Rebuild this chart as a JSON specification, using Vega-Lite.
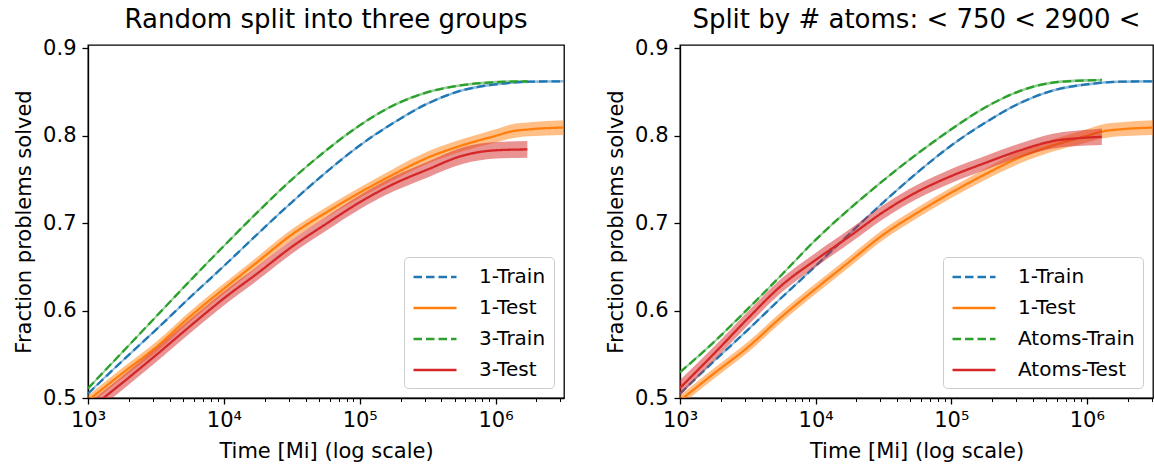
{
  "$schema": "https://vega.github.io/schema/vega-lite/v6.json",
  "padding": {"left": 12, "top": 6, "right": 0, "bottom": 0},
  "background": "white",
  "datasets": {
    "runs": [
      {"grp": "1", "kind": "Train", "series": "1-Train", "t": 1000, "v": 0.505, "lo": 0.5035, "hi": 0.5065},
      {"grp": "1", "kind": "Train", "series": "1-Train", "t": 1778, "v": 0.542, "lo": 0.5405, "hi": 0.5435},
      {"grp": "1", "kind": "Train", "series": "1-Train", "t": 3162, "v": 0.578, "lo": 0.5765, "hi": 0.5795},
      {"grp": "1", "kind": "Train", "series": "1-Train", "t": 5623, "v": 0.615, "lo": 0.6135, "hi": 0.6165},
      {"grp": "1", "kind": "Train", "series": "1-Train", "t": 10000, "v": 0.651, "lo": 0.6495, "hi": 0.6525},
      {"grp": "1", "kind": "Train", "series": "1-Train", "t": 17783, "v": 0.688, "lo": 0.6865, "hi": 0.6895},
      {"grp": "1", "kind": "Train", "series": "1-Train", "t": 31623, "v": 0.724, "lo": 0.7225, "hi": 0.7255},
      {"grp": "1", "kind": "Train", "series": "1-Train", "t": 56234, "v": 0.758, "lo": 0.7565, "hi": 0.7595},
      {"grp": "1", "kind": "Train", "series": "1-Train", "t": 100000, "v": 0.789, "lo": 0.7875, "hi": 0.7905},
      {"grp": "1", "kind": "Train", "series": "1-Train", "t": 177828, "v": 0.815, "lo": 0.8135, "hi": 0.8165},
      {"grp": "1", "kind": "Train", "series": "1-Train", "t": 316228, "v": 0.837, "lo": 0.8355, "hi": 0.8385},
      {"grp": "1", "kind": "Train", "series": "1-Train", "t": 562341, "v": 0.852, "lo": 0.8505, "hi": 0.8535},
      {"grp": "1", "kind": "Train", "series": "1-Train", "t": 1000000, "v": 0.859, "lo": 0.8575, "hi": 0.8605},
      {"grp": "1", "kind": "Train", "series": "1-Train", "t": 1778279, "v": 0.862, "lo": 0.8605, "hi": 0.8635},
      {"grp": "1", "kind": "Train", "series": "1-Train", "t": 3300000, "v": 0.8625, "lo": 0.861, "hi": 0.864},

      {"grp": "1", "kind": "Test", "series": "1-Test", "t": 1000, "v": 0.497, "lo": 0.491, "hi": 0.503},
      {"grp": "1", "kind": "Test", "series": "1-Test", "t": 1778, "v": 0.528, "lo": 0.522, "hi": 0.534},
      {"grp": "1", "kind": "Test", "series": "1-Test", "t": 3162, "v": 0.558, "lo": 0.552, "hi": 0.564},
      {"grp": "1", "kind": "Test", "series": "1-Test", "t": 5623, "v": 0.593, "lo": 0.587, "hi": 0.599},
      {"grp": "1", "kind": "Test", "series": "1-Test", "t": 10000, "v": 0.625, "lo": 0.619, "hi": 0.631},
      {"grp": "1", "kind": "Test", "series": "1-Test", "t": 17783, "v": 0.656, "lo": 0.65, "hi": 0.662},
      {"grp": "1", "kind": "Test", "series": "1-Test", "t": 31623, "v": 0.687, "lo": 0.681, "hi": 0.693},
      {"grp": "1", "kind": "Test", "series": "1-Test", "t": 56234, "v": 0.712, "lo": 0.706, "hi": 0.718},
      {"grp": "1", "kind": "Test", "series": "1-Test", "t": 100000, "v": 0.735, "lo": 0.729, "hi": 0.741},
      {"grp": "1", "kind": "Test", "series": "1-Test", "t": 177828, "v": 0.756, "lo": 0.7495, "hi": 0.7625},
      {"grp": "1", "kind": "Test", "series": "1-Test", "t": 316228, "v": 0.775, "lo": 0.768, "hi": 0.782},
      {"grp": "1", "kind": "Test", "series": "1-Test", "t": 562341, "v": 0.789, "lo": 0.782, "hi": 0.796},
      {"grp": "1", "kind": "Test", "series": "1-Test", "t": 1000000, "v": 0.8, "lo": 0.7925, "hi": 0.8075},
      {"grp": "1", "kind": "Test", "series": "1-Test", "t": 1300000, "v": 0.805, "lo": 0.797, "hi": 0.813},
      {"grp": "1", "kind": "Test", "series": "1-Test", "t": 1778279, "v": 0.8075, "lo": 0.7995, "hi": 0.8155},
      {"grp": "1", "kind": "Test", "series": "1-Test", "t": 3300000, "v": 0.8096, "lo": 0.8011, "hi": 0.8181},

      {"grp": "3", "kind": "Train", "series": "3-Train", "t": 1000, "v": 0.511, "lo": 0.5095, "hi": 0.5125},
      {"grp": "3", "kind": "Train", "series": "3-Train", "t": 1778, "v": 0.552, "lo": 0.5505, "hi": 0.5535},
      {"grp": "3", "kind": "Train", "series": "3-Train", "t": 3162, "v": 0.593, "lo": 0.5915, "hi": 0.5945},
      {"grp": "3", "kind": "Train", "series": "3-Train", "t": 5623, "v": 0.634, "lo": 0.6325, "hi": 0.6355},
      {"grp": "3", "kind": "Train", "series": "3-Train", "t": 10000, "v": 0.674, "lo": 0.6725, "hi": 0.6755},
      {"grp": "3", "kind": "Train", "series": "3-Train", "t": 17783, "v": 0.713, "lo": 0.7115, "hi": 0.7145},
      {"grp": "3", "kind": "Train", "series": "3-Train", "t": 31623, "v": 0.75, "lo": 0.7485, "hi": 0.7515},
      {"grp": "3", "kind": "Train", "series": "3-Train", "t": 56234, "v": 0.783, "lo": 0.7815, "hi": 0.7845},
      {"grp": "3", "kind": "Train", "series": "3-Train", "t": 100000, "v": 0.812, "lo": 0.8105, "hi": 0.8135},
      {"grp": "3", "kind": "Train", "series": "3-Train", "t": 177828, "v": 0.835, "lo": 0.8335, "hi": 0.8365},
      {"grp": "3", "kind": "Train", "series": "3-Train", "t": 316228, "v": 0.85, "lo": 0.8485, "hi": 0.8515},
      {"grp": "3", "kind": "Train", "series": "3-Train", "t": 562341, "v": 0.858, "lo": 0.8565, "hi": 0.8595},
      {"grp": "3", "kind": "Train", "series": "3-Train", "t": 1000000, "v": 0.8615, "lo": 0.86, "hi": 0.863},
      {"grp": "3", "kind": "Train", "series": "3-Train", "t": 1714000, "v": 0.8625, "lo": 0.861, "hi": 0.864},

      {"grp": "3", "kind": "Test", "series": "3-Test", "t": 1000, "v": 0.486, "lo": 0.478, "hi": 0.494},
      {"grp": "3", "kind": "Test", "series": "3-Test", "t": 1778, "v": 0.517, "lo": 0.509, "hi": 0.525},
      {"grp": "3", "kind": "Test", "series": "3-Test", "t": 3162, "v": 0.549, "lo": 0.541, "hi": 0.557},
      {"grp": "3", "kind": "Test", "series": "3-Test", "t": 5623, "v": 0.582, "lo": 0.574, "hi": 0.59},
      {"grp": "3", "kind": "Test", "series": "3-Test", "t": 10000, "v": 0.614, "lo": 0.606, "hi": 0.622},
      {"grp": "3", "kind": "Test", "series": "3-Test", "t": 17783, "v": 0.643, "lo": 0.635, "hi": 0.651},
      {"grp": "3", "kind": "Test", "series": "3-Test", "t": 31623, "v": 0.673, "lo": 0.665, "hi": 0.681},
      {"grp": "3", "kind": "Test", "series": "3-Test", "t": 56234, "v": 0.699, "lo": 0.691, "hi": 0.707},
      {"grp": "3", "kind": "Test", "series": "3-Test", "t": 100000, "v": 0.724, "lo": 0.716, "hi": 0.732},
      {"grp": "3", "kind": "Test", "series": "3-Test", "t": 177828, "v": 0.745, "lo": 0.7365, "hi": 0.7535},
      {"grp": "3", "kind": "Test", "series": "3-Test", "t": 316228, "v": 0.7615, "lo": 0.7525, "hi": 0.7705},
      {"grp": "3", "kind": "Test", "series": "3-Test", "t": 562341, "v": 0.777, "lo": 0.7675, "hi": 0.7865},
      {"grp": "3", "kind": "Test", "series": "3-Test", "t": 1000000, "v": 0.7835, "lo": 0.774, "hi": 0.793},
      {"grp": "3", "kind": "Test", "series": "3-Test", "t": 1714000, "v": 0.7845, "lo": 0.775, "hi": 0.794},

      {"grp": "A", "kind": "Train", "series": "Atoms-Train", "t": 1000, "v": 0.5295, "lo": 0.528, "hi": 0.531},
      {"grp": "A", "kind": "Train", "series": "Atoms-Train", "t": 1778, "v": 0.564, "lo": 0.5625, "hi": 0.5655},
      {"grp": "A", "kind": "Train", "series": "Atoms-Train", "t": 3162, "v": 0.602, "lo": 0.6005, "hi": 0.6035},
      {"grp": "A", "kind": "Train", "series": "Atoms-Train", "t": 5623, "v": 0.641, "lo": 0.6395, "hi": 0.6425},
      {"grp": "A", "kind": "Train", "series": "Atoms-Train", "t": 10000, "v": 0.681, "lo": 0.6795, "hi": 0.6825},
      {"grp": "A", "kind": "Train", "series": "Atoms-Train", "t": 17783, "v": 0.7165, "lo": 0.715, "hi": 0.718},
      {"grp": "A", "kind": "Train", "series": "Atoms-Train", "t": 31623, "v": 0.749, "lo": 0.7475, "hi": 0.7505},
      {"grp": "A", "kind": "Train", "series": "Atoms-Train", "t": 56234, "v": 0.7795, "lo": 0.778, "hi": 0.781},
      {"grp": "A", "kind": "Train", "series": "Atoms-Train", "t": 100000, "v": 0.8075, "lo": 0.806, "hi": 0.809},
      {"grp": "A", "kind": "Train", "series": "Atoms-Train", "t": 177828, "v": 0.8325, "lo": 0.831, "hi": 0.834},
      {"grp": "A", "kind": "Train", "series": "Atoms-Train", "t": 316228, "v": 0.851, "lo": 0.8495, "hi": 0.8525},
      {"grp": "A", "kind": "Train", "series": "Atoms-Train", "t": 562341, "v": 0.861, "lo": 0.8595, "hi": 0.8625},
      {"grp": "A", "kind": "Train", "series": "Atoms-Train", "t": 1000000, "v": 0.8635, "lo": 0.862, "hi": 0.865},
      {"grp": "A", "kind": "Train", "series": "Atoms-Train", "t": 1290000, "v": 0.864, "lo": 0.8625, "hi": 0.8655},

      {"grp": "A", "kind": "Test", "series": "Atoms-Test", "t": 1000, "v": 0.5115, "lo": 0.5025, "hi": 0.5205},
      {"grp": "A", "kind": "Test", "series": "Atoms-Test", "t": 1778, "v": 0.5506, "lo": 0.5426, "hi": 0.5586},
      {"grp": "A", "kind": "Test", "series": "Atoms-Test", "t": 3162, "v": 0.591, "lo": 0.583, "hi": 0.599},
      {"grp": "A", "kind": "Test", "series": "Atoms-Test", "t": 5623, "v": 0.629, "lo": 0.621, "hi": 0.637},
      {"grp": "A", "kind": "Test", "series": "Atoms-Test", "t": 10000, "v": 0.658, "lo": 0.65, "hi": 0.666},
      {"grp": "A", "kind": "Test", "series": "Atoms-Test", "t": 17783, "v": 0.685, "lo": 0.677, "hi": 0.693},
      {"grp": "A", "kind": "Test", "series": "Atoms-Test", "t": 31623, "v": 0.713, "lo": 0.705, "hi": 0.721},
      {"grp": "A", "kind": "Test", "series": "Atoms-Test", "t": 56234, "v": 0.736, "lo": 0.728, "hi": 0.744},
      {"grp": "A", "kind": "Test", "series": "Atoms-Test", "t": 100000, "v": 0.754, "lo": 0.746, "hi": 0.762},
      {"grp": "A", "kind": "Test", "series": "Atoms-Test", "t": 177828, "v": 0.769, "lo": 0.761, "hi": 0.777},
      {"grp": "A", "kind": "Test", "series": "Atoms-Test", "t": 316228, "v": 0.783, "lo": 0.775, "hi": 0.791},
      {"grp": "A", "kind": "Test", "series": "Atoms-Test", "t": 562341, "v": 0.794, "lo": 0.7855, "hi": 0.8025},
      {"grp": "A", "kind": "Test", "series": "Atoms-Test", "t": 1000000, "v": 0.798, "lo": 0.789, "hi": 0.807},
      {"grp": "A", "kind": "Test", "series": "Atoms-Test", "t": 1290000, "v": 0.799, "lo": 0.7895, "hi": 0.8085}
    ]
  },
  "data": {"name": "runs"},
  "spacing": 116,
  "bounds": "flush",
  "hconcat": [
    {
      "title": "Random split into three groups",
      "width": 476,
      "height": 353,
      "transform": [{"filter": {"field": "grp", "oneOf": ["1", "3"]}}],
      "layer": [
        {
          "transform": [{"filter": "!(datum.kind == 'Test' && datum.grp != '1')"}],
          "mark": {"type": "area", "opacity": 0.5, "clip": true, "interpolate": "monotone"},
          "encoding": {
            "x": {"field": "t", "type": "quantitative", "scale": {"type": "log", "domain": [1000, 3190000], "nice": false},
              "axis": {"orient": "bottom", "values": [1000, 10000, 100000, 1000000], "labelExpr": "datum.value == 1000 ? '10³' : datum.value == 10000 ? '10⁴' : datum.value == 100000 ? '10⁵' : '10⁶'", "title": "Time [Mi] (log scale)", "labelPadding": 5, "titlePadding": 10, "labelOverlap": false, "labelFlush": false}},
            "y": {"field": "lo", "type": "quantitative", "scale": {"domain": [0.5, 0.904], "nice": false, "zero": false},
              "axis": {"values": [0.5, 0.6, 0.7, 0.8, 0.9], "format": ".1f", "title": "Fraction problems solved", "labelPadding": 6, "titlePadding": 8}},
            "y2": {"field": "hi"},
            "color": {"field": "series", "type": "nominal", "title": null,
              "scale": {"domain": ["1-Train", "1-Test", "3-Train", "3-Test"], "range": ["#1f77b4", "#ff7f0e", "#2ca02c", "#d62728"]}}
          }
        },
        {
          "transform": [{"filter": "!(datum.kind == 'Test' && datum.grp != '1')"}],
          "mark": {"type": "line", "strokeWidth": 2.3, "clip": true, "interpolate": "monotone"},
          "encoding": {
            "x": {"field": "t", "type": "quantitative", "scale": {"type": "log", "domain": [1000, 3190000], "nice": false},
              "axis": {"orient": "bottom", "values": [2000, 3000, 4000, 5000, 6000, 7000, 8000, 9000, 20000, 30000, 40000, 50000, 60000, 70000, 80000, 90000, 200000, 300000, 400000, 500000, 600000, 700000, 800000, 900000, 2000000, 3000000], "labels": false, "domain": false, "tickSize": 3.5, "tickWidth": 1, "title": null}},
            "y": {"field": "v", "type": "quantitative", "scale": {"domain": [0.5, 0.904], "nice": false, "zero": false},
              "axis": {"values": [0.5, 0.6, 0.7, 0.8, 0.9], "format": ".1f", "title": "Fraction problems solved", "labelPadding": 6, "titlePadding": 8}},
            "color": {"field": "series", "type": "nominal", "title": null,
              "scale": {"domain": ["1-Train", "1-Test", "3-Train", "3-Test"], "range": ["#1f77b4", "#ff7f0e", "#2ca02c", "#d62728"]}},
            "strokeDash": {"field": "series", "type": "nominal", "title": null,
              "scale": {"domain": ["1-Train", "1-Test", "3-Train", "3-Test"], "range": [[8.5, 4], [1, 0], [8.5, 4], [1, 0]]}}
          }
        },
        {
          "transform": [{"filter": "datum.kind == 'Test' && datum.grp != '1'"}],
          "mark": {"type": "area", "opacity": 0.5, "clip": true, "interpolate": "monotone"},
          "encoding": {
            "x": {"field": "t", "type": "quantitative", "scale": {"type": "log", "domain": [1000, 3190000], "nice": false}, "axis": null},
            "y": {"field": "lo", "type": "quantitative", "scale": {"domain": [0.5, 0.904], "nice": false, "zero": false},
              "axis": {"values": [0.5, 0.6, 0.7, 0.8, 0.9], "format": ".1f", "title": "Fraction problems solved", "labelPadding": 6, "titlePadding": 8}},
            "y2": {"field": "hi"},
            "color": {"field": "series", "type": "nominal", "title": null,
              "scale": {"domain": ["1-Train", "1-Test", "3-Train", "3-Test"], "range": ["#1f77b4", "#ff7f0e", "#2ca02c", "#d62728"]}}
          }
        },
        {
          "transform": [{"filter": "datum.kind == 'Test' && datum.grp != '1'"}],
          "mark": {"type": "line", "strokeWidth": 2.3, "clip": true, "interpolate": "monotone"},
          "encoding": {
            "x": {"field": "t", "type": "quantitative", "scale": {"type": "log", "domain": [1000, 3190000], "nice": false}, "axis": null},
            "y": {"field": "v", "type": "quantitative", "scale": {"domain": [0.5, 0.904], "nice": false, "zero": false},
              "axis": {"values": [0.5, 0.6, 0.7, 0.8, 0.9], "format": ".1f", "title": "Fraction problems solved", "labelPadding": 6, "titlePadding": 8}},
            "color": {"field": "series", "type": "nominal", "title": null,
              "scale": {"domain": ["1-Train", "1-Test", "3-Train", "3-Test"], "range": ["#1f77b4", "#ff7f0e", "#2ca02c", "#d62728"]}},
            "strokeDash": {"field": "series", "type": "nominal", "title": null,
              "scale": {"domain": ["1-Train", "1-Test", "3-Train", "3-Test"], "range": [[8.5, 4], [1, 0], [8.5, 4], [1, 0]]}}
          }
        }
      ],
      "resolve": {"axis": {"x": "independent"}}
    },
    {
      "title": "Split by # atoms: < 750 < 2900 <",
      "width": 473,
      "height": 353,
      "transform": [{"filter": {"field": "grp", "oneOf": ["1", "A"]}}],
      "layer": [
        {
          "transform": [{"filter": "!(datum.kind == 'Test' && datum.grp != '1')"}],
          "mark": {"type": "area", "opacity": 0.5, "clip": true, "interpolate": "monotone"},
          "encoding": {
            "x": {"field": "t", "type": "quantitative", "scale": {"type": "log", "domain": [1000, 3076000], "nice": false},
              "axis": {"orient": "bottom", "values": [1000, 10000, 100000, 1000000], "labelExpr": "datum.value == 1000 ? '10³' : datum.value == 10000 ? '10⁴' : datum.value == 100000 ? '10⁵' : '10⁶'", "title": "Time [Mi] (log scale)", "labelPadding": 5, "titlePadding": 10, "labelOverlap": false, "labelFlush": false}},
            "y": {"field": "lo", "type": "quantitative", "scale": {"domain": [0.5, 0.904], "nice": false, "zero": false},
              "axis": {"values": [0.5, 0.6, 0.7, 0.8, 0.9], "format": ".1f", "title": "Fraction problems solved", "labelPadding": 6, "titlePadding": 8}},
            "y2": {"field": "hi"},
            "color": {"field": "series", "type": "nominal", "title": null,
              "scale": {"domain": ["1-Train", "1-Test", "Atoms-Train", "Atoms-Test"], "range": ["#1f77b4", "#ff7f0e", "#2ca02c", "#d62728"]}}
          }
        },
        {
          "transform": [{"filter": "!(datum.kind == 'Test' && datum.grp != '1')"}],
          "mark": {"type": "line", "strokeWidth": 2.3, "clip": true, "interpolate": "monotone"},
          "encoding": {
            "x": {"field": "t", "type": "quantitative", "scale": {"type": "log", "domain": [1000, 3076000], "nice": false},
              "axis": {"orient": "bottom", "values": [2000, 3000, 4000, 5000, 6000, 7000, 8000, 9000, 20000, 30000, 40000, 50000, 60000, 70000, 80000, 90000, 200000, 300000, 400000, 500000, 600000, 700000, 800000, 900000, 2000000, 3000000], "labels": false, "domain": false, "tickSize": 3.5, "tickWidth": 1, "title": null}},
            "y": {"field": "v", "type": "quantitative", "scale": {"domain": [0.5, 0.904], "nice": false, "zero": false},
              "axis": {"values": [0.5, 0.6, 0.7, 0.8, 0.9], "format": ".1f", "title": "Fraction problems solved", "labelPadding": 6, "titlePadding": 8}},
            "color": {"field": "series", "type": "nominal", "title": null,
              "scale": {"domain": ["1-Train", "1-Test", "Atoms-Train", "Atoms-Test"], "range": ["#1f77b4", "#ff7f0e", "#2ca02c", "#d62728"]}},
            "strokeDash": {"field": "series", "type": "nominal", "title": null,
              "scale": {"domain": ["1-Train", "1-Test", "Atoms-Train", "Atoms-Test"], "range": [[8.5, 4], [1, 0], [8.5, 4], [1, 0]]}}
          }
        },
        {
          "transform": [{"filter": "datum.kind == 'Test' && datum.grp != '1'"}],
          "mark": {"type": "area", "opacity": 0.5, "clip": true, "interpolate": "monotone"},
          "encoding": {
            "x": {"field": "t", "type": "quantitative", "scale": {"type": "log", "domain": [1000, 3076000], "nice": false}, "axis": null},
            "y": {"field": "lo", "type": "quantitative", "scale": {"domain": [0.5, 0.904], "nice": false, "zero": false},
              "axis": {"values": [0.5, 0.6, 0.7, 0.8, 0.9], "format": ".1f", "title": "Fraction problems solved", "labelPadding": 6, "titlePadding": 8}},
            "y2": {"field": "hi"},
            "color": {"field": "series", "type": "nominal", "title": null,
              "scale": {"domain": ["1-Train", "1-Test", "Atoms-Train", "Atoms-Test"], "range": ["#1f77b4", "#ff7f0e", "#2ca02c", "#d62728"]}}
          }
        },
        {
          "transform": [{"filter": "datum.kind == 'Test' && datum.grp != '1'"}],
          "mark": {"type": "line", "strokeWidth": 2.3, "clip": true, "interpolate": "monotone"},
          "encoding": {
            "x": {"field": "t", "type": "quantitative", "scale": {"type": "log", "domain": [1000, 3076000], "nice": false}, "axis": null},
            "y": {"field": "v", "type": "quantitative", "scale": {"domain": [0.5, 0.904], "nice": false, "zero": false},
              "axis": {"values": [0.5, 0.6, 0.7, 0.8, 0.9], "format": ".1f", "title": "Fraction problems solved", "labelPadding": 6, "titlePadding": 8}},
            "color": {"field": "series", "type": "nominal", "title": null,
              "scale": {"domain": ["1-Train", "1-Test", "Atoms-Train", "Atoms-Test"], "range": ["#1f77b4", "#ff7f0e", "#2ca02c", "#d62728"]}},
            "strokeDash": {"field": "series", "type": "nominal", "title": null,
              "scale": {"domain": ["1-Train", "1-Test", "Atoms-Train", "Atoms-Test"], "range": [[8.5, 4], [1, 0], [8.5, 4], [1, 0]]}}
          }
        }
      ],
      "resolve": {"axis": {"x": "independent"}}
    }
  ],
  "resolve": {
    "scale": {"x": "independent", "y": "independent", "color": "independent", "strokeDash": "independent"},
    "axis": {"x": "independent", "y": "independent"},
    "legend": {"color": "independent", "strokeDash": "independent"}
  },
  "config": {
    "font": "DejaVu Sans",
    "view": {"stroke": "black", "strokeWidth": 1.3},
    "axis": {
      "grid": false, "domainColor": "black", "domainWidth": 1.3, "tickColor": "black", "tickWidth": 1.3, "tickSize": 6,
      "labelColor": "black", "titleColor": "black", "labelFontSize": 21, "titleFontSize": 21, "titleFontWeight": "normal",
      "labelFont": "DejaVu Sans", "titleFont": "DejaVu Sans"
    },
    "title": {"fontSize": 26, "fontWeight": "normal", "font": "DejaVu Sans", "color": "black", "offset": 4, "anchor": "middle"},
    "legend": {
      "orient": "bottom-right", "offset": 10, "padding": 8, "labelFontSize": 20, "labelFont": "DejaVu Sans", "labelColor": "black",
      "symbolType": "M-2,0H2", "symbolSize": 462, "symbolOffset": 11, "symbolStrokeWidth": 2.5, "symbolOpacity": 1,
      "strokeColor": "#cccccc", "fillColor": "white", "cornerRadius": 4, "rowPadding": 9, "labelOffset": 32
    }
  }
}
